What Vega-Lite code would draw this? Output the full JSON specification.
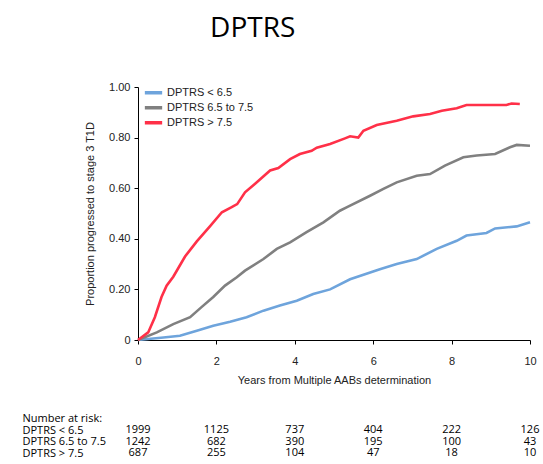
{
  "$schema": "https://vega.github.io/schema/vega-lite/v6.json",
  "padding": {"left": 22, "top": 15, "right": 5, "bottom": 0},
  "title": {"text": "DPTRS", "font": "Open Sans", "fontSize": 28, "fontWeight": "normal", "color": "#000", "anchor": "middle", "dx": -28, "offset": 38},
  "spacing": 27,
  "datasets": {
    "km": [
      {"group": "DPTRS < 6.5", "t": 0, "p": 0},
      {"group": "DPTRS < 6.5", "t": 0.65, "p": 0.01},
      {"group": "DPTRS < 6.5", "t": 1.07, "p": 0.017},
      {"group": "DPTRS < 6.5", "t": 1.5, "p": 0.037},
      {"group": "DPTRS < 6.5", "t": 1.92, "p": 0.056},
      {"group": "DPTRS < 6.5", "t": 2.35, "p": 0.072},
      {"group": "DPTRS < 6.5", "t": 2.77, "p": 0.09},
      {"group": "DPTRS < 6.5", "t": 3.2, "p": 0.116},
      {"group": "DPTRS < 6.5", "t": 3.62, "p": 0.136},
      {"group": "DPTRS < 6.5", "t": 4.05, "p": 0.155},
      {"group": "DPTRS < 6.5", "t": 4.47, "p": 0.182},
      {"group": "DPTRS < 6.5", "t": 4.9, "p": 0.2},
      {"group": "DPTRS < 6.5", "t": 5.41, "p": 0.24},
      {"group": "DPTRS < 6.5", "t": 6.17, "p": 0.28},
      {"group": "DPTRS < 6.5", "t": 6.6, "p": 0.3},
      {"group": "DPTRS < 6.5", "t": 7.11, "p": 0.32},
      {"group": "DPTRS < 6.5", "t": 7.62, "p": 0.36},
      {"group": "DPTRS < 6.5", "t": 8.13, "p": 0.392},
      {"group": "DPTRS < 6.5", "t": 8.38, "p": 0.413},
      {"group": "DPTRS < 6.5", "t": 8.89, "p": 0.423},
      {"group": "DPTRS < 6.5", "t": 9.11, "p": 0.441},
      {"group": "DPTRS < 6.5", "t": 9.66, "p": 0.449},
      {"group": "DPTRS < 6.5", "t": 10.0, "p": 0.465},
      {"group": "DPTRS 6.5 to 7.5", "t": 0, "p": 0},
      {"group": "DPTRS 6.5 to 7.5", "t": 0.48, "p": 0.03},
      {"group": "DPTRS 6.5 to 7.5", "t": 0.9, "p": 0.063},
      {"group": "DPTRS 6.5 to 7.5", "t": 1.33, "p": 0.09},
      {"group": "DPTRS 6.5 to 7.5", "t": 1.62, "p": 0.13},
      {"group": "DPTRS 6.5 to 7.5", "t": 1.92, "p": 0.17},
      {"group": "DPTRS 6.5 to 7.5", "t": 2.22, "p": 0.215},
      {"group": "DPTRS 6.5 to 7.5", "t": 2.52, "p": 0.248},
      {"group": "DPTRS 6.5 to 7.5", "t": 2.73, "p": 0.274},
      {"group": "DPTRS 6.5 to 7.5", "t": 3.2, "p": 0.32},
      {"group": "DPTRS 6.5 to 7.5", "t": 3.54, "p": 0.36},
      {"group": "DPTRS 6.5 to 7.5", "t": 3.88, "p": 0.386},
      {"group": "DPTRS 6.5 to 7.5", "t": 4.3, "p": 0.426},
      {"group": "DPTRS 6.5 to 7.5", "t": 4.73, "p": 0.465},
      {"group": "DPTRS 6.5 to 7.5", "t": 5.15, "p": 0.511},
      {"group": "DPTRS 6.5 to 7.5", "t": 5.32, "p": 0.524},
      {"group": "DPTRS 6.5 to 7.5", "t": 5.92, "p": 0.57},
      {"group": "DPTRS 6.5 to 7.5", "t": 6.26, "p": 0.597},
      {"group": "DPTRS 6.5 to 7.5", "t": 6.6, "p": 0.623},
      {"group": "DPTRS 6.5 to 7.5", "t": 7.11, "p": 0.649},
      {"group": "DPTRS 6.5 to 7.5", "t": 7.45, "p": 0.656},
      {"group": "DPTRS 6.5 to 7.5", "t": 7.83, "p": 0.689},
      {"group": "DPTRS 6.5 to 7.5", "t": 8.3, "p": 0.722},
      {"group": "DPTRS 6.5 to 7.5", "t": 8.64, "p": 0.729},
      {"group": "DPTRS 6.5 to 7.5", "t": 9.11, "p": 0.735},
      {"group": "DPTRS 6.5 to 7.5", "t": 9.49, "p": 0.762},
      {"group": "DPTRS 6.5 to 7.5", "t": 9.66, "p": 0.771},
      {"group": "DPTRS 6.5 to 7.5", "t": 10.0, "p": 0.768},
      {"group": "DPTRS > 7.5", "t": 0, "p": 0},
      {"group": "DPTRS > 7.5", "t": 0.26, "p": 0.03},
      {"group": "DPTRS > 7.5", "t": 0.43, "p": 0.09},
      {"group": "DPTRS > 7.5", "t": 0.6, "p": 0.17},
      {"group": "DPTRS > 7.5", "t": 0.73, "p": 0.215},
      {"group": "DPTRS > 7.5", "t": 0.9, "p": 0.25},
      {"group": "DPTRS > 7.5", "t": 1.2, "p": 0.33},
      {"group": "DPTRS > 7.5", "t": 1.5, "p": 0.39},
      {"group": "DPTRS > 7.5", "t": 1.84, "p": 0.45},
      {"group": "DPTRS > 7.5", "t": 2.14, "p": 0.505},
      {"group": "DPTRS > 7.5", "t": 2.39, "p": 0.525},
      {"group": "DPTRS > 7.5", "t": 2.53, "p": 0.537},
      {"group": "DPTRS > 7.5", "t": 2.73, "p": 0.584},
      {"group": "DPTRS > 7.5", "t": 2.98, "p": 0.617},
      {"group": "DPTRS > 7.5", "t": 3.37, "p": 0.67},
      {"group": "DPTRS > 7.5", "t": 3.58, "p": 0.68},
      {"group": "DPTRS > 7.5", "t": 3.88, "p": 0.715},
      {"group": "DPTRS > 7.5", "t": 4.13, "p": 0.735},
      {"group": "DPTRS > 7.5", "t": 4.43, "p": 0.748},
      {"group": "DPTRS > 7.5", "t": 4.56, "p": 0.76},
      {"group": "DPTRS > 7.5", "t": 4.9, "p": 0.775},
      {"group": "DPTRS > 7.5", "t": 5.28, "p": 0.797},
      {"group": "DPTRS > 7.5", "t": 5.41, "p": 0.805},
      {"group": "DPTRS > 7.5", "t": 5.62, "p": 0.8},
      {"group": "DPTRS > 7.5", "t": 5.75, "p": 0.827},
      {"group": "DPTRS > 7.5", "t": 6.09, "p": 0.85},
      {"group": "DPTRS > 7.5", "t": 6.6, "p": 0.867},
      {"group": "DPTRS > 7.5", "t": 7.02, "p": 0.884},
      {"group": "DPTRS > 7.5", "t": 7.45, "p": 0.893},
      {"group": "DPTRS > 7.5", "t": 7.75, "p": 0.906},
      {"group": "DPTRS > 7.5", "t": 8.13, "p": 0.916},
      {"group": "DPTRS > 7.5", "t": 8.38, "p": 0.929},
      {"group": "DPTRS > 7.5", "t": 8.9, "p": 0.929},
      {"group": "DPTRS > 7.5", "t": 9.4, "p": 0.929},
      {"group": "DPTRS > 7.5", "t": 9.53, "p": 0.935},
      {"group": "DPTRS > 7.5", "t": 9.74, "p": 0.933}
    ],
    "risk": [
      {"row": "DPTRS < 6.5", "t": 0, "n": 1999},
      {"row": "DPTRS < 6.5", "t": 2, "n": 1125},
      {"row": "DPTRS < 6.5", "t": 4, "n": 737},
      {"row": "DPTRS < 6.5", "t": 6, "n": 404},
      {"row": "DPTRS < 6.5", "t": 8, "n": 222},
      {"row": "DPTRS < 6.5", "t": 10, "n": 126},
      {"row": "DPTRS 6.5 to 7.5", "t": 0, "n": 1242},
      {"row": "DPTRS 6.5 to 7.5", "t": 2, "n": 682},
      {"row": "DPTRS 6.5 to 7.5", "t": 4, "n": 390},
      {"row": "DPTRS 6.5 to 7.5", "t": 6, "n": 195},
      {"row": "DPTRS 6.5 to 7.5", "t": 8, "n": 100},
      {"row": "DPTRS 6.5 to 7.5", "t": 10, "n": 43},
      {"row": "DPTRS > 7.5", "t": 0, "n": 687},
      {"row": "DPTRS > 7.5", "t": 2, "n": 255},
      {"row": "DPTRS > 7.5", "t": 4, "n": 104},
      {"row": "DPTRS > 7.5", "t": 6, "n": 47},
      {"row": "DPTRS > 7.5", "t": 8, "n": 18},
      {"row": "DPTRS > 7.5", "t": 10, "n": 10}
    ]
  },
  "vconcat": [
    {
      "width": 392,
      "height": 253,
      "data": {"name": "km"},
      "mark": {"type": "line", "strokeWidth": 2.6, "interpolate": "linear"},
      "encoding": {
        "x": {
          "field": "t", "type": "quantitative",
          "scale": {"domain": [0, 10], "nice": false},
          "axis": {"values": [0, 2, 4, 6, 8, 10], "title": "Years from Multiple AABs determination", "grid": false, "labelFlush": false, "labelPadding": 11, "titlePadding": 8}
        },
        "y": {
          "field": "p", "type": "quantitative",
          "scale": {"domain": [0, 1], "nice": false},
          "axis": {"values": [0, 0.2, 0.4, 0.6, 0.8, 1], "labelExpr": "datum.value == 0 ? '0' : format(datum.value, '.2f')", "title": "Proportion progressed to stage 3 T1D", "grid": false, "labelFlush": false, "labelPadding": 4, "titlePadding": 13}
        },
        "color": {
          "field": "group", "type": "nominal",
          "scale": {"domain": ["DPTRS < 6.5", "DPTRS 6.5 to 7.5", "DPTRS > 7.5"], "range": ["#6ea4dc", "#808080", "#ff3048"]},
          "legend": {"orient": "none", "legendX": 5, "legendY": 0, "title": null, "padding": 0, "symbolType": "stroke", "symbolSize": 300, "symbolStrokeWidth": 3.5, "clipHeight": 11.5, "labelFont": "Liberation Sans", "labelFontSize": 11, "labelColor": "#222", "rowPadding": 2, "labelOffset": 3}
        }
      }
    },
    {
      "width": 392,
      "height": 46,
      "data": {"name": "risk"},
      "mark": {"type": "text", "font": "Open Sans", "fontSize": 11, "color": "#000", "align": "center", "baseline": "middle"},
      "encoding": {
        "x": {"field": "t", "type": "quantitative", "scale": {"domain": [0, 10], "nice": false}, "axis": null},
        "y": {
          "field": "row", "type": "nominal",
          "scale": {"type": "point", "domain": ["Number at risk:", "DPTRS < 6.5", "DPTRS 6.5 to 7.5", "DPTRS > 7.5"], "padding": 0.5},
          "axis": {"title": null, "domain": false, "ticks": false, "tickSize": 0, "labelPadding": 116, "labelAlign": "left", "labelFont": "Open Sans", "labelFontSize": 11, "labelColor": "#000"}
        },
        "text": {"field": "n", "type": "quantitative"}
      }
    }
  ],
  "config": {
    "view": {"stroke": null},
    "axis": {"labelFont": "Liberation Sans", "titleFont": "Liberation Sans", "labelFontSize": 11, "titleFontSize": 11, "titleFontWeight": "normal", "labelColor": "#222", "titleColor": "#222", "domainColor": "#000", "tickColor": "#000", "tickSize": 4}
  }
}
